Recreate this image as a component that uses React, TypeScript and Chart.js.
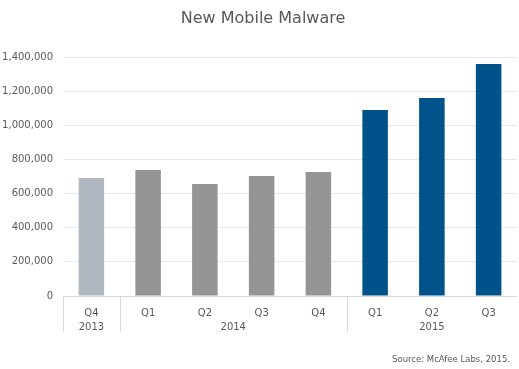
import React, { useEffect, useRef } from 'react';
import { Chart, registerables } from 'chart.js';

Chart.register(...registerables);

const titleText = 'New Mobile Malware';
const sourceText = 'Source: McAfee Labs, 2015.';
const quarterLabels: (string | string[])[] = [['Q4', '2013'], 'Q1', 'Q2', 'Q3', 'Q4', 'Q1', 'Q2', 'Q3'];
const malwareCounts = [691000, 738000, 656000, 703000, 726000, 1089000, 1160000, 1359000];
const barColors = ['#b0b9c1', '#959595', '#959595', '#959595', '#959595', '#00538a', '#00538a', '#00538a'];
const yearGroups = [
  { label: '2014', from: 1, to: 4 },
  { label: '2015', from: 5, to: 7 },
];
const groupBoundaries = [0, 1, 5];
const yMax = 1400000;
const yStep = 200000;

const FONT = '"DejaVu Sans", sans-serif';
const TEXT = '#595959';

export default function App() {
  const ref = useRef<HTMLCanvasElement | null>(null);

  useEffect(() => {
    document.body.style.margin = '0';
    const canvas = ref.current;
    if (!canvas) return;

    const decor = {
      id: 'decor',
      afterDraw(chart: any) {
        const ctx = chart.ctx;
        const area = chart.chartArea;
        const xs = chart.scales.x;
        const step = xs.getPixelForValue(1) - xs.getPixelForValue(0);
        ctx.save();
        // title
        ctx.fillStyle = TEXT;
        ctx.font = `16px ${FONT}`;
        ctx.textAlign = 'center';
        ctx.textBaseline = 'alphabetic';
        ctx.fillText(titleText, 263, 23);
        // axis baseline
        ctx.strokeStyle = '#d9d9d9';
        ctx.lineWidth = 1;
        ctx.beginPath();
        ctx.moveTo(area.left, Math.round(area.bottom) + 0.5);
        ctx.lineTo(area.right, Math.round(area.bottom) + 0.5);
        ctx.stroke();
        // group separators
        groupBoundaries.forEach((i) => {
          const x = Math.round(xs.getPixelForValue(i) - step / 2) + 0.5;
          ctx.beginPath();
          ctx.moveTo(x, area.bottom);
          ctx.lineTo(x, area.bottom + 36);
          ctx.stroke();
        });
        // year labels
        ctx.fillStyle = TEXT;
        ctx.font = `10px ${FONT}`;
        ctx.textAlign = 'center';
        ctx.textBaseline = 'middle';
        yearGroups.forEach((g) => {
          const cx = (xs.getPixelForValue(g.from) + xs.getPixelForValue(g.to)) / 2;
          ctx.fillText(g.label, cx, area.bottom + 31);
        });
        // source
        ctx.font = `8.5px ${FONT}`;
        ctx.textAlign = 'right';
        ctx.fillText(sourceText, 510, 360);
        ctx.restore();
      },
    };

    const chart = new Chart(canvas, {
      type: 'bar',
      data: {
        labels: quarterLabels as any,
        datasets: [
          {
            data: malwareCounts,
            backgroundColor: barColors,
            borderWidth: 0,
            barPercentage: 0.45,
            categoryPercentage: 1,
          },
        ],
      },
      options: {
        animation: false,
        responsive: false,
        maintainAspectRatio: false,
        layout: { padding: { top: 57, right: 2, left: 0, bottom: 0 } },
        plugins: {
          legend: { display: false },
          title: { display: false },
          tooltip: { enabled: false },
        },
        scales: {
          x: {
            grid: { display: false, drawTicks: false },
            border: { display: false },
            ticks: {
              color: TEXT,
              font: { family: FONT, size: 10, lineHeight: 1.4 },
              padding: 10,
              maxRotation: 0,
              autoSkip: false,
            },
            afterFit(scale: any) {
              scale.height = 73;
            },
          },
          y: {
            min: 0,
            max: yMax,
            grid: { color: '#e8e8e8', drawTicks: false },
            border: { display: false },
            ticks: {
              stepSize: yStep,
              color: TEXT,
              font: { family: FONT, size: 10 },
              padding: 10,
              callback: (v: any) => Number(v).toLocaleString('en-US'),
            },
            afterFit(scale: any) {
              scale.width = 63;
            },
          },
        },
      },
      plugins: [decor],
    });

    return () => chart.destroy();
  }, []);

  return (
    <div style={{ width: 519, height: 369, background: '#fff' }}>
      <canvas ref={ref} width={519} height={369} style={{ display: 'block' }} />
    </div>
  );
}
